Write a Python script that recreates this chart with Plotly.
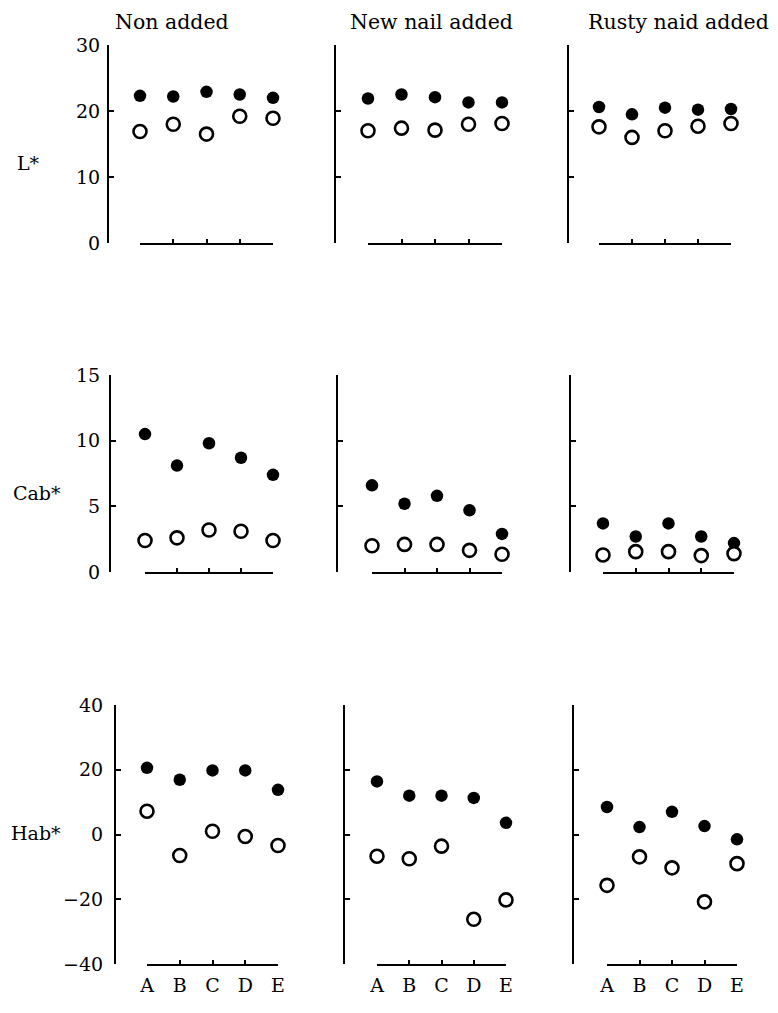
import plotly.graph_objects as go

# ---------------- data ----------------
categories = ["A", "B", "C", "D", "E"]
panel_titles = ["Non added", "New nail added", "Rusty naid added"]
row_labels = ["L*", "Cab*", "Hab*"]

# L*
L_filled = [[22.3, 22.2, 22.9, 22.5, 22.0],
            [21.9, 22.5, 22.1, 21.3, 21.3],
            [20.6, 19.5, 20.5, 20.2, 20.3]]
L_open = [[16.9, 18.0, 16.5, 19.2, 18.9],
          [17.0, 17.4, 17.1, 18.0, 18.1],
          [17.6, 16.0, 17.0, 17.7, 18.1]]
# Cab*
C_filled = [[10.5, 8.1, 9.8, 8.7, 7.4],
            [6.6, 5.2, 5.8, 4.7, 2.9],
            [3.7, 2.7, 3.7, 2.7, 2.2]]
C_open = [[2.4, 2.6, 3.2, 3.1, 2.4],
          [2.0, 2.1, 2.1, 1.65, 1.35],
          [1.3, 1.55, 1.55, 1.25, 1.4]]
# Hab*
H_filled = [[20.6, 16.9, 19.8, 19.8, 13.8],
            [16.4, 12.0, 12.0, 11.3, 3.6],
            [8.5, 2.3, 7.0, 2.6, -1.5]]
H_open = [[7.2, -6.5, 1.0, -0.6, -3.4],
          [-6.7, -7.5, -3.6, -26.2, -20.2],
          [-15.7, -6.9, -10.3, -20.8, -9.0]]

y_ranges = [[0, 30], [0, 15], [-40, 40]]
y_tickvals = [[0, 10, 20, 30], [0, 5, 10, 15], [-40, -20, 0, 20, 40]]
y_ticktext = [["0", "10", "20", "30"], ["0", "5", "10", "15"],
              ["−40", "−20", "0", "20", "40"]]

filled_rows = [L_filled, C_filled, H_filled]
open_rows = [L_open, C_open, H_open]

# ---------------- layout geometry (pixels in the 778x1013 window) ----------------
OFF = 8                      # page body margin
W, H = 778 - OFF, 1013 - OFF
row_top = [45, 375, 705]
row_bot = [243, 572, 964]
yaxis_x = [[108, 335, 568], [110, 337, 570], [115, 344, 573]]
xstart = [[140, 368, 599], [145, 372, 603], [147, 377, 607]]
xend = [[273, 502, 731], [273, 502, 734], [278, 506, 737]]
y_standoff = [3, 5, 7]


def px(x):
    return (x - OFF) / W


def py(y):
    return 1 - (y - OFF) / H


FONT = "DejaVu Serif"
fig = go.Figure()
layout = dict(
    template="none",
    width=W, height=H,
    margin=dict(l=0, r=0, t=0, b=0, pad=0, autoexpand=False),
    paper_bgcolor="white", plot_bgcolor="rgba(0,0,0,0)",
    showlegend=False,
    font=dict(family=FONT, size=19, color="black"),
)

xs = list(range(len(categories)))
k = 0
for r in range(3):
    for c in range(3):
        k += 1
        sfx = "" if k == 1 else str(k)
        xa = "x" + sfx
        ya = "y" + sfx
        fig.add_trace(go.Scatter(
            x=xs, y=filled_rows[r][c], mode="markers", xaxis=xa, yaxis=ya,
            cliponaxis=False,
            marker=dict(symbol="circle", size=12.5, color="black",
                        line=dict(width=0))))
        fig.add_trace(go.Scatter(
            x=xs, y=open_rows[r][c], mode="markers", xaxis=xa, yaxis=ya,
            cliponaxis=False,
            marker=dict(symbol="circle", size=13, color="white",
                        line=dict(width=2.6, color="black"))))
        layout["xaxis" + sfx] = dict(
            domain=[px(xstart[r][c]), px(xend[r][c])],
            range=[0, 4], anchor=ya, automargin=False,
            showline=True, linewidth=2.2, linecolor="black",
            showgrid=False, zeroline=False,
            ticks="inside", ticklen=4, tickwidth=1.5, tickcolor="black",
            tickvals=xs, ticktext=categories,
            showticklabels=(r == 2),
            ticklabelstandoff=3,
            tickfont=dict(family=FONT, size=19, color="black"),
        )
        layout["yaxis" + sfx] = dict(
            domain=[py(row_bot[r]), py(row_top[r])],
            range=y_ranges[r], anchor="free", automargin=False,
            position=px(yaxis_x[r][c]),
            showline=True, linewidth=2.2, linecolor="black",
            showgrid=False, zeroline=False,
            ticks="inside", ticklen=5, tickwidth=1.5, tickcolor="black",
            tickvals=y_tickvals[r], ticktext=y_ticktext[r],
            showticklabels=(c == 0),
            ticklabelstandoff=y_standoff[r],
            tickfont=dict(family=FONT, size=19, color="black"),
        )

annotations = []
title_x = [172, 432, 678]
for c in range(3):
    annotations.append(dict(
        text=panel_titles[c], x=px(title_x[c]), y=py(22),
        xref="paper", yref="paper", xanchor="center", yanchor="middle",
        showarrow=False, font=dict(family=FONT, size=20.5, color="black")))
label_pos = [(15, 163), (11, 493), (9, 833)]
for r in range(3):
    lx, ly = label_pos[r]
    annotations.append(dict(
        text=row_labels[r], x=px(lx), y=py(ly),
        xref="paper", yref="paper", xanchor="left", yanchor="middle",
        showarrow=False, font=dict(family=FONT, size=19, color="black")))
layout["annotations"] = annotations

fig.update_layout(**layout)
fig.write_html("out.html")
